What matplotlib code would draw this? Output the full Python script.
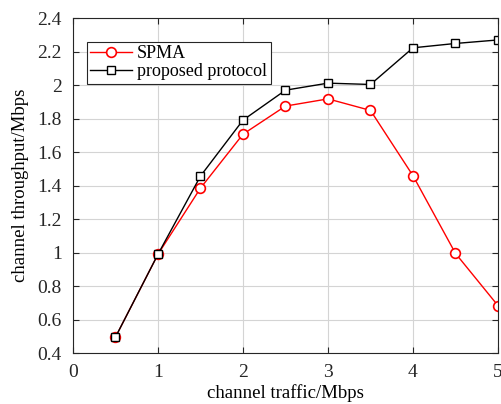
import matplotlib
matplotlib.use('Agg')
import matplotlib.pyplot as plt

traffic = [0.5, 1, 1.5, 2, 2.5, 3, 3.5, 4, 4.5, 5]
spma = [0.495, 0.99, 1.385, 1.707, 1.875, 1.918, 1.849, 1.459, 0.995, 0.683]
proposed = [0.495, 0.99, 1.457, 1.791, 1.97, 2.012, 2.004, 2.223, 2.249, 2.27]

plt.rcParams['font.family'] = ['Liberation Serif', 'DejaVu Serif']
plt.rcParams['font.size'] = 12

fig = plt.figure(figsize=(5.01, 4.04), dpi=100)
ax = fig.add_axes([0.1457, 0.1262, 0.8483, 0.8288])

ax.plot(traffic, spma, color='red', marker='o', markersize=7, markerfacecolor='white',
        markeredgecolor='red', markeredgewidth=1.2, linewidth=1, label='SPMA')
ax.plot(traffic, proposed, color='black', marker='s', markersize=6, markerfacecolor='white',
        markeredgecolor='black', markeredgewidth=1, linewidth=1, label='proposed protocol')

ax.set_xlim(0, 5)
ax.set_ylim(0.4, 2.4)
ax.set_xticks([0, 1, 2, 3, 4, 5])
ax.set_yticks([0.4, 0.6, 0.8, 1, 1.2, 1.4, 1.6, 1.8, 2, 2.2, 2.4])
ax.set_yticklabels(['0.4', '0.6', '0.8', '1', '1.2', '1.4', '1.6', '1.8', '2', '2.2', '2.4'])
ax.grid(True, color='#d4d4d4', linewidth=0.8)
ax.set_axisbelow(True)
ax.tick_params(direction='in', top=True, right=True, labelsize=14, colors='#262626', length=4)
ax.tick_params(axis='x', pad=8)
ax.tick_params(axis='y', pad=8)
for s in ax.spines.values():
    s.set_color('#262626')
    s.set_linewidth(0.8)

ax.set_xlabel('channel traffic/Mbps', fontsize=13.5, labelpad=2)
ax.set_ylabel('channel throughput/Mbps', fontsize=13.5, labelpad=6)

leg = ax.legend(loc='upper left', bbox_to_anchor=(0.032, 0.93), fontsize=13,
                fancybox=False, framealpha=1, edgecolor='#262626',
                handlelength=2.3, borderpad=0.2, labelspacing=0.05, handletextpad=0.3,
                borderaxespad=0)
leg.get_frame().set_linewidth(0.8)

plt.savefig('out.png', dpi=100)
